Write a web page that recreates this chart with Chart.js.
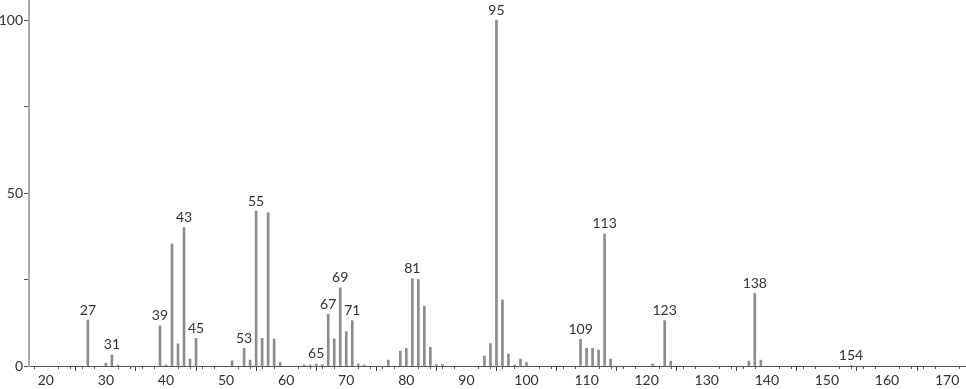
<!DOCTYPE html>
<html>
<head>
<meta charset="utf-8">
<script src="https://cdn.jsdelivr.net/npm/chart.js@4.4.1/dist/chart.umd.min.js"></script>
<style>
  html, body { margin: 0; padding: 0; background: #fff; }
  #wrap { width: 966px; height: 389px; position: relative; }
</style>
</head>
<body>
<div id="wrap"><canvas id="spectrum"></canvas></div>
<script>
// m/z values and relative intensities
var mz = [27, 30, 31, 32, 39, 40, 41, 42, 43, 44, 45, 51, 53, 54, 55, 56, 57, 58, 59,
  63, 64, 65, 66, 67, 68, 69, 70, 71, 72, 73, 77, 79, 80, 81, 82, 83, 84, 85, 86,
  93, 94, 95, 96, 97, 98, 99, 100, 109, 110, 111, 112, 113, 114, 121, 123, 124,
  137, 138, 139, 154];
var intensity = [13.3, 0.8, 3.2, 0.3, 11.6, 0.3, 35.3, 6.4, 40.0, 2.0, 8.0, 1.5, 5.1, 1.7, 44.8, 8.0, 44.3, 7.8, 1.0,
  0.3, 0.3, 0.6, 0.4, 15.0, 7.8, 22.6, 9.9, 13.1, 0.6, 0.3, 1.7, 4.3, 5.1, 25.2, 25.0, 17.3, 5.4, 0.4, 0.4,
  2.9, 6.5, 100, 19.1, 3.5, 0.3, 2.0, 1.0, 7.7, 5.1, 5.1, 4.6, 38.2, 2.0, 0.6, 13.1, 1.4,
  1.4, 21.0, 1.7, 0.2];
// peaks that carry a text label
var labeled = [27, 31, 39, 43, 45, 53, 55, 65, 67, 69, 71, 81, 95, 109, 113, 123, 138, 154];
var xTicks = [20, 30, 40, 50, 60, 70, 80, 90, 100, 110, 120, 130, 140, 150, 160, 170];
var yTicks = [0, 25, 50, 75, 100];

var FONT = 'Lato, "DejaVu Sans", sans-serif';

var points = mz.map(function (m, i) { return {x: m, y: intensity[i]}; });

// writes the m/z number above the labeled peaks
var peakLabels = {
  id: 'peakLabels',
  afterDatasetsDraw: function (chart) {
    var ctx = chart.ctx;
    var meta = chart.getDatasetMeta(0);
    ctx.save();
    ctx.font = '14px ' + FONT;
    ctx.fillStyle = '#333';
    ctx.textAlign = 'center';
    ctx.textBaseline = 'bottom';
    meta.data.forEach(function (bar, i) {
      if (labeled.indexOf(mz[i]) >= 0) {
        ctx.fillText(String(mz[i]), bar.x, bar.y - 3);
      }
    });
    ctx.restore();
  }
};

// small tick marks every 2 units on the m/z axis
var minorTicks = {
  id: 'minorTicks',
  afterDraw: function (chart) {
    var ctx = chart.ctx;
    var sx = chart.scales.x;
    var bottom = chart.chartArea.bottom;
    ctx.save();
    ctx.strokeStyle = '#555';
    ctx.lineWidth = 1;
    for (var v = 18; v <= 172; v += 2) {
      if (v % 10 === 0) continue;
      var px = Math.round(sx.getPixelForValue(v)) + 0.5;
      ctx.beginPath();
      ctx.moveTo(px, bottom);
      ctx.lineTo(px, bottom + 3);
      ctx.stroke();
    }
    ctx.restore();
  }
};

new Chart(document.getElementById('spectrum'), {
  type: 'bar',
  data: {
    datasets: [{
      data: points,
      backgroundColor: '#8c8c8c',
      borderWidth: 0,
      barThickness: 2
    }]
  },
  options: {
    responsive: true,
    maintainAspectRatio: false,
    animation: false,
    layout: { padding: 0 },
    plugins: {
      legend: { display: false },
      tooltip: { enabled: false }
    },
    scales: {
      x: {
        type: 'linear',
        min: 17.2,
        max: 173.15,
        offset: false,
        afterFit: function (s) {
          s.height = 23;
          s.paddingLeft = 0;
          s.paddingRight = 0;
        },
        afterBuildTicks: function (s) {
          s.ticks = xTicks.map(function (v) { return {value: v}; });
        },
        ticks: {
          font: { family: FONT, size: 14 },
          color: '#333',
          padding: 1,
          maxRotation: 0,
          autoSkip: false
        },
        grid: { drawOnChartArea: false, tickLength: 5, tickColor: '#444' },
        border: { color: '#555', width: 1 }
      },
      y: {
        min: 0,
        max: 105.8,
        afterFit: function (s) {
          s.width = 29;
          s.paddingTop = 0;
          s.paddingBottom = 0;
        },
        afterBuildTicks: function (s) {
          s.ticks = yTicks.map(function (v) { return {value: v}; });
        },
        ticks: {
          font: { family: FONT, size: 14 },
          color: '#333',
          padding: 1,
          callback: function (v) { return v % 50 === 0 ? v : ''; }
        },
        grid: { drawOnChartArea: false, tickLength: 5, tickColor: '#555' },
        border: { color: '#aaa', width: 2 }
      }
    }
  },
  plugins: [peakLabels, minorTicks]
});
</script>
</body>
</html>
